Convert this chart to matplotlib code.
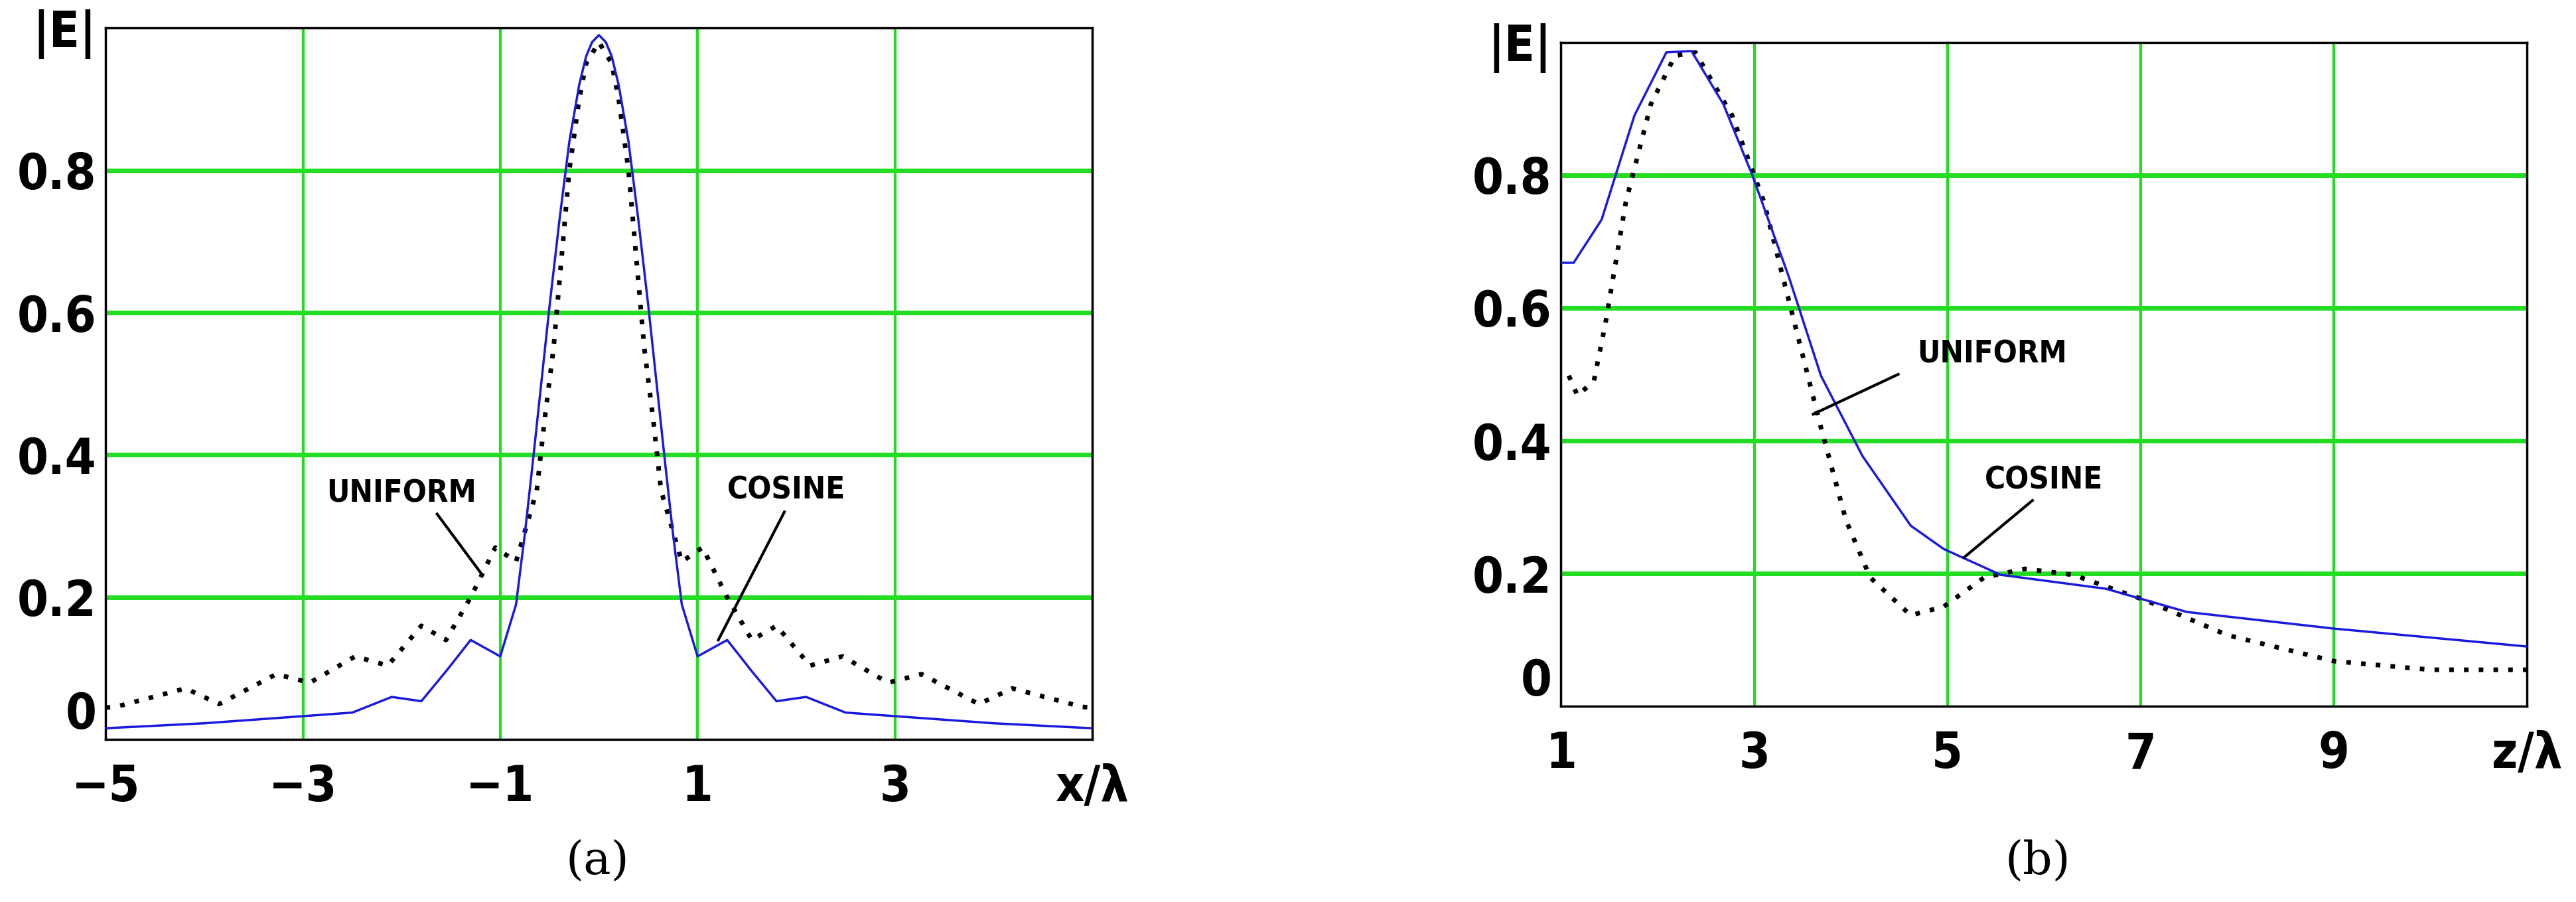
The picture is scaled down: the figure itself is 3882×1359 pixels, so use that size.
import matplotlib
matplotlib.use("Agg")
import matplotlib.pyplot as plt

FONT = ['DejaVu Sans']

# Panel (a)
a_uni_x = [-5, -4.9, -4.19, -3.85, -3.27, -2.93, -2.47, -2.14, -1.8, -1.55, -1.3, -1.05, -0.84, -0.63, -0.55, -0.46, -0.3, -0.2, -0.13, 0]
a_uni_y = [0.045, 0.046, 0.072, 0.05, 0.092, 0.08, 0.117, 0.104, 0.16, 0.14, 0.2, 0.27, 0.25, 0.35, 0.45, 0.55, 0.8, 0.9, 0.95, 0.98]
a_cos_x = [-5, -4, -3.2, -2.5, -2.1, -1.8, -1.55, -1.3, -1.0, -0.84, -0.75, -0.67, -0.5, -0.4, -0.3, -0.2, -0.13, -0.07, 0]
a_cos_y = [0.016, 0.023, 0.031, 0.038, 0.06, 0.054, 0.096, 0.14, 0.117, 0.19, 0.29, 0.39, 0.61, 0.73, 0.84, 0.92, 0.96, 0.98, 0.99]

# Panel (b)
b_cos_x = [1, 1.13, 1.42, 1.76, 2.09, 2.35, 2.68, 2.98, 3.36, 3.69, 4.12, 4.62, 4.96, 5.55, 6.64, 7.48, 9, 11]
b_cos_y = [0.668, 0.668, 0.733, 0.89, 0.985, 0.987, 0.907, 0.80, 0.646, 0.498, 0.377, 0.272, 0.237, 0.198, 0.177, 0.142, 0.117, 0.09]
b_uni_x = [1.08, 1.17, 1.34, 1.46, 1.67, 1.93, 2.18, 2.39, 2.77, 3.1, 3.36, 3.69, 3.95, 4.2, 4.62, 4.96, 5.38, 5.8, 6.3, 7.06, 7.9, 9, 10, 11]
b_uni_y = [0.498, 0.468, 0.49, 0.577, 0.759, 0.907, 0.98, 0.985, 0.89, 0.76, 0.61, 0.42, 0.28, 0.194, 0.137, 0.15, 0.194, 0.207, 0.198, 0.159, 0.107, 0.068, 0.055, 0.055]

a_xticks = [-5, -3, -1, 1, 3, 5]
a_xlabels = ['\u22125', '\u22123', '\u22121', '1', '3', 'x/\u03bb']
b_xticks = [1, 3, 5, 7, 9, 11]
b_xlabels = ['1', '3', '5', '7', '9', 'z/\u03bb']
yticks = [0, 0.2, 0.4, 0.6, 0.8, 1.0]
ylabels = ['0', '0.2', '0.4', '0.6', '0.8', '|E|']

fig = plt.figure(figsize=(38.82, 13.59), dpi=100)
ax1 = fig.add_axes([0.041, 0.18, 0.383, 0.789])
ax2 = fig.add_axes([0.606, 0.217, 0.375, 0.736])

GREEN = '#22dd22'
BLUE = '#1a1adc'

def style(ax, xlim, xt, xl, gx):
    ax.set_xlim(*xlim); ax.set_ylim(0, 1.0)
    for g in gx:
        ax.axvline(g, color=GREEN, lw=3, zorder=1)
    for g in [0.2, 0.4, 0.6, 0.8]:
        ax.axhline(g, color=GREEN, lw=5, zorder=1)
    ax.set_xticks(xt); ax.set_xticklabels(xl)
    ax.set_yticks(yticks); ax.set_yticklabels(ylabels)
    ax.tick_params(length=0, labelsize=54)
    ax.tick_params(axis='x', pad=26)
    ax.tick_params(axis='y', pad=10)
    for lab in ax.get_xticklabels() + ax.get_yticklabels():
        lab.set_fontweight('bold'); lab.set_family(FONT); lab.set_fontstretch('condensed')
    ax.get_yticklabels()[0].set_va('bottom')
    for s in ax.spines.values():
        s.set_linewidth(2.5); s.set_color('black')

style(ax1, (-5, 5), a_xticks, a_xlabels, [-3, -1, 1, 3])
style(ax2, (1, 11), b_xticks, b_xlabels, [3, 5, 7, 9])

def sym(x, y):
    return x + [-v for v in x[-2::-1]], y + y[-2::-1]

ux, uy = sym(a_uni_x, a_uni_y)
cx, cy = sym(a_cos_x, a_cos_y)
ax1.plot(ux, uy, color='black', lw=5, ls=(0, (1, 2.2)), zorder=3)
ax1.plot(cx, cy, color=BLUE, lw=2.5, zorder=4)
ax2.plot(b_uni_x, b_uni_y, color='black', lw=5, ls=(0, (1, 2.2)), zorder=3)
ax2.plot(b_cos_x, b_cos_y, color=BLUE, lw=2.5, zorder=4)

tk = dict(fontsize=34, fontweight='bold', family=FONT, fontstretch='condensed', ha='center', va='center')
ln = dict(color='black', lw=3, zorder=5)
ax1.text(-2.0, 0.345, 'UNIFORM', **tk)
ax1.plot([-1.64, -1.18], [0.317, 0.231], **ln)
ax1.text(1.9, 0.35, 'COSINE', **tk)
ax1.plot([1.88, 1.21], [0.32, 0.14], **ln)
ax2.text(5.46, 0.53, 'UNIFORM', **tk)
ax2.plot([4.49, 3.61], [0.50, 0.44], **ln)
ax2.text(6.0, 0.34, 'COSINE', **tk)
ax2.plot([5.88, 5.17], [0.31, 0.224], **ln)

fig.text(0.232, 0.045, '(a)', fontsize=50, family='DejaVu Serif', ha='center', va='center')
fig.text(0.791, 0.045, '(b)', fontsize=50, family='DejaVu Serif', ha='center', va='center')
fig.savefig('out.png', dpi=100)
